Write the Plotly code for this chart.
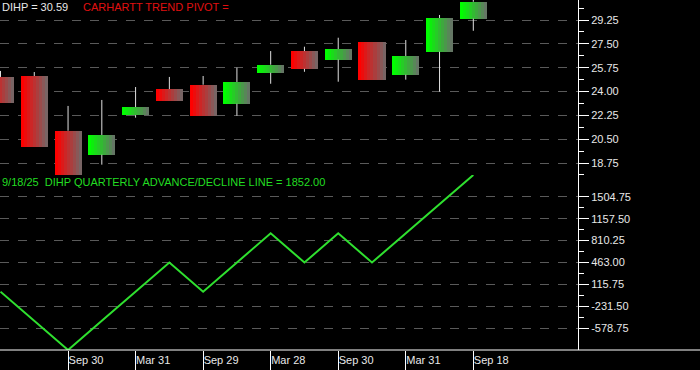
import plotly.graph_objects as go

# ---- data ----
dates = ["2022-03-31", "2022-06-30", "2022-09-30", "2022-12-30", "2023-03-31",
         "2023-06-30", "2023-09-29", "2023-12-29", "2024-03-28", "2024-06-28",
         "2024-09-30", "2024-12-31", "2025-03-31", "2025-06-30", "2025-09-18"]
opens  = [25.07, 25.14, 21.12, 19.36, 22.27, 24.18, 24.50, 23.10, 25.38, 26.97, 26.34, 27.63, 25.23, 26.92, 29.35]
highs  = [25.51, 25.43, 22.94, 23.38, 24.33, 25.07, 25.14, 25.75, 26.97, 27.29, 27.95, 27.63, 27.78, 29.62, 30.72]
lows   = [23.18, 19.95, 17.87, 18.63, 22.08, 23.32, 22.22, 22.22, 24.57, 25.45, 24.72, 24.87, 24.87, 23.99, 28.46]
closes = [23.18, 19.95, 17.87, 20.81, 22.86, 23.32, 22.22, 24.70, 25.97, 25.67, 27.12, 24.87, 26.61, 29.40, 30.59]
ad_line = [0, -463, -926, -463, 0, 463, 0, 463, 926, 463, 926, 463, 926, 1389, 1852]

tick_dates = ["2022-09-30", "2023-03-31", "2023-09-29", "2024-03-28", "2024-09-30", "2025-03-31", "2025-09-18"]
tick_labels = ["Sep 30", "Mar 31", "Sep 29", "Mar 28", "Sep 30", "Mar 31", "Sep 18"]

W, H = 700, 370
FONT = "Liberation Sans, Arial, sans-serif"

fig = go.Figure()

# wicks (upper and lower segments, drawn outside bodies)
wx, wy = [], []
for d, o, h, l, c in zip(dates, opens, highs, lows, closes):
    top, bot = max(o, c), min(o, c)
    if h > top:
        wx += [d, d, None]; wy += [top, h, None]
    if l < bot:
        wx += [d, d, None]; wy += [l, bot, None]
fig.add_trace(go.Scatter(x=wx, y=wy, mode="lines", line=dict(color="#e0e0e0", width=1),
                         xaxis="x2", yaxis="y2", hoverinfo="skip", showlegend=False))

# bodies with horizontal gradient (several strips)
N = 9
BW = 0.8
def lerp(a, b, t):
    return tuple(int(round(a[i] + (b[i] - a[i]) * t)) for i in range(3))
for i in range(N):
    t = i / (N - 1)
    for up in (True, False):
        idx = [k for k in range(len(dates)) if (closes[k] >= opens[k]) == up]
        if not idx:
            continue
        c0 = (0, 255, 0) if up else (255, 0, 0)
        c1 = (100, 118, 100) if up else (120, 100, 100)
        col = "rgb(%d,%d,%d)" % lerp(c0, c1, t)
        fig.add_trace(go.Bar(
            x=[dates[k] for k in idx],
            y=[abs(closes[k] - opens[k]) for k in idx],
            base=[min(closes[k], opens[k]) for k in idx],
            width=BW / N * 1.02, offset=-BW / 2 + i * BW / N,
            marker=dict(color=col, line=dict(width=0)),
            xaxis="x2", yaxis="y2", hoverinfo="skip", showlegend=False))

# advance/decline line
fig.add_trace(go.Scatter(x=dates, y=ad_line, mode="lines", line=dict(color="#2fe02f", width=2),
                         xaxis="x", yaxis="y", hoverinfo="skip", showlegend=False))

xd = [0, 578 / W]
low_dom = [20 / H, 195 / H]
top_dom = [195 / H, 1.0]
xr = [-0.015, 17.1]

ad_major = [-578.75, -231.5, 115.75, 463.0, 810.25, 1157.5, 1504.75]
ad_minor = [(a + b) / 2 for a, b in zip(ad_major[:-1], ad_major[1:])]

fig.update_layout(
    width=W, height=H, margin=dict(l=0, r=0, t=0, b=0),
    paper_bgcolor="black", plot_bgcolor="black",
    barmode="overlay", bargap=0, showlegend=False,
    font=dict(family=FONT, size=11, color="#e8e8e8"),
    xaxis=dict(domain=xd, anchor="y", type="category", categoryorder="array", categoryarray=dates,
               range=xr, tickmode="array", tickvals=tick_dates, ticktext=tick_labels,
               ticks="outside", ticklen=20, tickcolor="white", tickwidth=1,
               ticklabelposition="outside right", showgrid=False, showline=False, zeroline=False,
               tickfont=dict(size=11, color="#e8e8e8")),
    xaxis2=dict(domain=xd, anchor="y2", type="category", categoryorder="array", categoryarray=dates,
                range=xr, matches="x", showticklabels=False, ticks="", showgrid=False,
                showline=False, zeroline=False),
    yaxis=dict(domain=low_dom, anchor="x", side="right", range=[-926, 1852],
               tickmode="array", tickvals=ad_major, ticktext=["%.2f" % v for v in ad_major],
               ticks="outside", ticklen=10, tickcolor="white", tickwidth=1,
               showline=True, linecolor="white", linewidth=1,
               showgrid=True, gridcolor="#5a5a5a", griddash="dash", gridwidth=1, zeroline=False,
               minor=dict(tickvals=ad_minor, ticks="outside", ticklen=5, tickcolor="white", showgrid=False),
               tickfont=dict(size=11, color="#e8e8e8")),
    yaxis2=dict(domain=top_dom, anchor="x2", side="right", range=[17.87, 30.72],
                tickmode="linear", tick0=18.75, dtick=1.75, tickformat=".2f",
                ticks="outside", ticklen=10, tickcolor="white", tickwidth=1,
                showline=True, linecolor="white", linewidth=1,
                showgrid=True, gridcolor="#5a5a5a", griddash="dash", gridwidth=1, zeroline=False,
                minor=dict(tick0=18.75, dtick=0.875, ticks="outside", ticklen=5, tickcolor="white", showgrid=False),
                tickfont=dict(size=11, color="#e8e8e8")),
    shapes=[dict(type="line", xref="paper", yref="paper", x0=0, x1=1, y0=20 / H, y1=20 / H,
                 line=dict(color="white", width=1))],
    annotations=[
        dict(text="DIHP = 30.59", xref="paper", yref="paper", x=0, y=1 - 7 / H,
             xanchor="left", yanchor="middle", showarrow=False, font=dict(size=11, color="#e8e8e8")),
        dict(text="CARHARTT TREND PIVOT =", xref="paper", yref="paper", x=81 / W, y=1 - 7 / H,
             xanchor="left", yanchor="middle", showarrow=False, font=dict(size=11, color="#e01010")),
        dict(text="9/18/25  DIHP QUARTERLY ADVANCE/DECLINE LINE = 1852.00", xref="paper", yref="paper",
             x=0, y=1 - 182 / H, xanchor="left", yanchor="middle", showarrow=False,
             font=dict(size=11, color="#22dd22")),
    ],
)

fig.write_html("out.html")
